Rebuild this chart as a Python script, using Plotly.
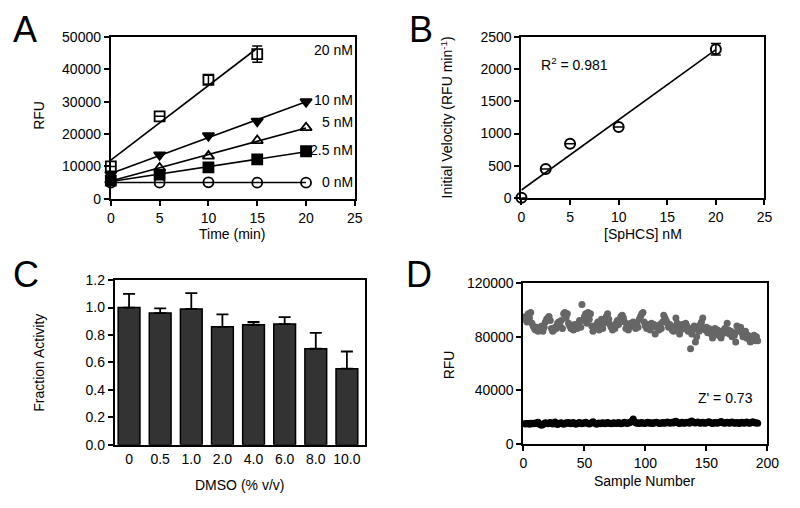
import numpy as np
import plotly.graph_objects as go

# ---------- Panel A data ----------
time_min = [0, 5, 10, 15, 20]
rfu_0nM = [5000, 5000, 5100, 5000, 5000]
rfu_2_5nM = [5600, 7500, 9700, 12200, 14700]
rfu_5nM = [5800, 9500, 13200, 18000, 22000]
rfu_10nM = [7500, 13600, 19500, 24000, 30000]
time_20 = [0, 5, 10, 15]
rfu_20nM = [10000, 25500, 36800, 44700]
err_20nM = [0, 0, 1400, 2500]
labels_A = ["20 nM", "10 nM", "5 nM", "2.5 nM", "0 nM"]
label_y_A = [46100, 30500, 23600, 15200, 5100]

# ---------- Panel B data ----------
sphcs_nM = [0, 2.5, 5, 10, 20]
velocity = [0, 450, 840, 1100, 2310]
velocity_err = [0, 0, 0, 0, 90]

# ---------- Panel C data ----------
dmso_labels = ["0", "0.5", "1.0", "2.0", "4.0", "6.0", "8.0", "10.0"]
fraction_activity = [1.00, 0.96, 0.99, 0.86, 0.875, 0.88, 0.70, 0.555]
fraction_err = [0.10, 0.035, 0.115, 0.09, 0.02, 0.05, 0.115, 0.125]

# ---------- Panel D data ----------
high_signal = [
    93000, 95000, 91000, 97000, 94000, 98000, 90000, 88000, 86000, 85000, 87000, 84000,
    86000, 85000, 88000, 84000, 87000, 91000, 93000, 94000, 95000, 92000, 86000, 84000,
    85000, 87000, 86000, 90000, 91000, 88000, 92000, 86000, 97000, 98000, 94000, 97000,
    90000, 88000, 86000, 87000, 85000, 89000, 88000, 86000, 90000, 92000, 87000, 104000,
    92000, 95000, 97000, 90000, 98000, 93000, 97000, 88000, 84000, 87000, 86000, 89000,
    91000, 85000, 88000, 93000, 86000, 90000, 92000, 95000, 97000, 93000, 89000, 87000,
    85000, 88000, 86000, 90000, 92000, 89000, 93000, 95000, 96000, 94000, 91000, 86000,
    88000, 85000, 87000, 90000, 89000, 91000, 88000, 86000, 90000, 87000, 93000, 95000,
    97000, 98000, 91000, 88000, 86000, 89000, 87000, 85000, 90000, 88000, 89000, 82000,
    87000, 88000, 85000, 89000, 86000, 91000, 96000, 94000, 92000, 90000, 87000, 89000,
    88000, 85000, 84000, 86000, 94000, 90000, 88000, 82000, 85000, 89000, 87000, 86000,
    90000, 88000, 84000, 86000, 71000, 82000, 85000, 88000, 76000, 80000, 87000, 84000,
    89000, 91000, 94000, 86000, 85000, 87000, 83000, 86000, 85000, 82000, 79000, 84000,
    86000, 83000, 85000, 81000, 84000, 79000, 82000, 84000, 86000, 83000, 90000, 85000,
    82000, 84000, 80000, 83000, 81000, 76000, 88000, 86000, 84000, 87000, 83000, 80000,
    82000, 84000, 79000, 81000, 78000, 76000, 80000, 79000, 81000, 77000, 80000, 77000,
]
low_signal = [
    15000, 14800, 15200, 15100, 14700, 15400, 15000, 15300, 14900, 15600, 15200, 16200,
    15000, 14200, 13800, 14500, 15200, 15800, 15400, 15000, 15600, 15900, 15300, 14800,
    15500, 16300, 15000, 14400, 14900, 15300, 15700, 15100, 14600, 15200, 15800, 15400,
    15900, 15300, 15000, 15600, 16000, 15200, 14700, 15100, 15500, 15900, 15400, 14900,
    15300, 15700, 16200, 15600, 15100, 14800, 15400, 15800, 16400, 15700, 15200, 14700,
    15100, 15500, 14900, 15300, 15800, 15400, 15000, 15600, 16000, 15500, 15200, 14900,
    15300, 15700, 15400, 15100, 15600, 15900, 15300, 15000, 15400, 15800, 16100, 15600,
    15200, 15500, 15900, 16300, 17000, 18500, 16600, 15800, 15300, 15700, 15200, 15600,
    16000, 15500, 15100, 15400, 15800, 16100, 15600, 15300, 15700, 15200, 15500, 15900,
    16200, 15700, 15400, 15100, 15600, 16000, 15500, 15300, 15800, 16300, 15900, 15400,
    15700, 16100, 15600, 16400, 16800, 16000, 15500, 15200, 15700, 16100, 15600, 15300,
    15800, 16200, 15900, 15400, 16700, 17000, 16300, 15800, 15500, 15900, 16300, 15700,
    15400, 15800, 16200, 15600, 15300, 15700, 16100, 16500, 15900, 15500, 15200, 15600,
    16000, 15700, 15400, 15800, 16200, 16600, 16100, 15600, 15300, 15700, 16100, 15800,
    15400, 15900, 16300, 15700, 15300, 15600, 16000, 15500, 15200, 15700, 16100, 15800,
    15400, 15900, 16300, 15700, 15300, 15600, 16000, 16500, 15900, 15500, 15800, 15400,
]
sample_number = list(range(1, len(high_signal) + 1))

FONT = "Liberation Sans, Arial, sans-serif"
BLACK = "#000000"

fig = go.Figure()

# ---------- Panel A ----------
series_A = [
    (time_min, rfu_0nM, "circle-open", None),
    (time_min, rfu_2_5nM, "square", None),
    (time_min, rfu_5nM, "triangle-up-open", None),
    (time_min, rfu_10nM, "triangle-down", None),
    (time_20, rfu_20nM, "square-open", err_20nM),
]
for xs, ys, sym, err in series_A:
    slope, icpt = np.polyfit(xs, ys, 1)
    xl = [xs[0], xs[-1]]
    fig.add_trace(go.Scatter(x=xl, y=[icpt + slope * v for v in xl], mode="lines",
                             line=dict(color=BLACK, width=1.6), xaxis="x", yaxis="y",
                             showlegend=False, hoverinfo="skip", cliponaxis=False))
    tr = go.Scatter(
        x=xs, y=ys, mode="markers", xaxis="x", yaxis="y", showlegend=False, cliponaxis=False,
        marker=dict(symbol=sym, size=10, color=BLACK, line=dict(color=BLACK, width=1.8)))
    if err is not None:
        tr.error_y = dict(type="data", array=err, color=BLACK, thickness=1.5, width=5)
    fig.add_trace(tr)

for txt, yv in zip(labels_A, label_y_A):
    fig.add_annotation(x=24.95, y=yv, xref="x", yref="y", text=txt, showarrow=False,
                       xanchor="right", yanchor="middle", borderpad=0,
                       font=dict(size=14, color=BLACK, family=FONT))

# ---------- Panel B ----------
sB, iB = np.polyfit(sphcs_nM, velocity, 1)
xlB = [sphcs_nM[0], sphcs_nM[-1]]
fig.add_trace(go.Scatter(x=xlB, y=[iB + sB * v for v in xlB], mode="lines",
                         line=dict(color=BLACK, width=1.6), xaxis="x2", yaxis="y2",
                         showlegend=False, cliponaxis=False))
fig.add_trace(go.Scatter(x=sphcs_nM, y=velocity, mode="markers", xaxis="x2", yaxis="y2",
                         showlegend=False, cliponaxis=False,
                         marker=dict(symbol="circle-open", size=10, color=BLACK,
                                     line=dict(color=BLACK, width=2)),
                         error_y=dict(type="data", array=velocity_err, color=BLACK,
                                      thickness=1.5, width=5)))
fig.add_annotation(x=1.8, y=2080, xref="x2", yref="y2", text="R<sup>2</sup> = 0.981",
                   showarrow=False, xanchor="left", yanchor="middle",
                   font=dict(size=14, color=BLACK, family=FONT))

# ---------- Panel C ----------
fig.add_trace(go.Bar(x=list(range(len(dmso_labels))), y=fraction_activity, xaxis="x3", yaxis="y3",
                     width=0.7, marker=dict(color="#333333", line=dict(color=BLACK, width=1.5)),
                     error_y=dict(type="data", array=fraction_err, arrayminus=[0] * len(fraction_err),
                                  symmetric=False, color=BLACK, thickness=1.8, width=6),
                     showlegend=False))

# ---------- Panel D ----------
fig.add_trace(go.Scatter(x=sample_number, y=high_signal, mode="markers", xaxis="x4", yaxis="y4",
                         showlegend=False, cliponaxis=False,
                         marker=dict(size=7, color="#666666")))
fig.add_trace(go.Scatter(x=sample_number, y=low_signal, mode="markers", xaxis="x4", yaxis="y4",
                         showlegend=False, cliponaxis=False,
                         marker=dict(size=7, color=BLACK)))
fig.add_annotation(x=190, y=34000, xref="x4", yref="y4", text="Z' = 0.73", showarrow=False,
                   xanchor="right", yanchor="middle", font=dict(size=14, color=BLACK, family=FONT))

# ---------- Axes ----------
def ax(domain, rng, anchor, dtick=None, tickvals=None, ticktext=None, ticks="outside", tickformat=None):
    d = dict(domain=domain, range=rng, anchor=anchor, showline=True, linecolor=BLACK, linewidth=2,
             mirror=True, ticks=ticks, ticklen=5, tickwidth=1.5, tickcolor=BLACK,
             showgrid=False, zeroline=False, tickfont=dict(size=14, color=BLACK, family=FONT))
    if dtick is not None:
        d["dtick"] = dtick
        d["tick0"] = 0
    if tickvals is not None:
        d["tickvals"] = tickvals
        d["ticktext"] = ticktext
        d["tickmode"] = "array"
    if tickformat:
        d["tickformat"] = tickformat
    return d

W, H = 800, 508
def px_x(a, b):
    return [a / W, b / W]
def px_y(top, bottom):
    return [1 - bottom / H, 1 - top / H]

fig.update_layout(
    width=W, height=H, margin=dict(l=0, r=0, t=0, b=0),
    paper_bgcolor="white", plot_bgcolor="white",
    font=dict(family=FONT, color=BLACK, size=14),
    xaxis=ax(px_x(109, 358), [0, 25], "y", dtick=5),
    yaxis=ax(px_y(30, 197), [0, 50000], "x", dtick=10000, tickformat="d"),
    xaxis2=ax(px_x(528, 776), [0, 25], "y2", dtick=5),
    yaxis2=ax(px_y(30, 196), [0, 2500], "x2", dtick=500, tickformat="d"),
    xaxis3=ax(px_x(113, 368), [-0.46, 7.57], "y3", tickvals=list(range(len(dmso_labels))),
              ticktext=dmso_labels, ticks=""),
    yaxis3=ax(px_y(281, 451), [0, 1.2], "x3", dtick=0.2, tickformat=".1f"),
    xaxis4=ax(px_x(530, 779), [0, 200], "y4", dtick=50),
    yaxis4=ax(px_y(284, 450), [0, 120000], "x4", dtick=40000, tickformat="d"),
    bargap=0.3,
)

# Axis titles and panel letters
def ann(xp, yp, text, size=14, angle=0, xanchor="center", yanchor="middle"):
    fig.add_annotation(x=xp / W, y=1 - yp / H, xref="paper", yref="paper", text=text, showarrow=False,
                       textangle=angle, xanchor=xanchor, yanchor=yanchor,
                       font=dict(size=size, color=BLACK, family=FONT))

ann(233, 233, "Time (min)")
ann(35, 111, "RFU", angle=-90)
ann(652, 233, "[SpHCS] nM")
ann(452, 113, "Initial Velocity (RFU min<sup>-1</sup>)", angle=-90)
ann(240, 492, "DMSO (% v/v)")
ann(36, 366, "Fraction Activity", angle=-90)
ann(654, 488, "Sample Number")
ann(455, 368, "RFU", angle=-90)

ann(21, 22, "A", size=36)
ann(425, 22, "B", size=36)
ann(22, 275, "C", size=36)
ann(423, 275, "D", size=36)

fig.write_html("out.html", config={"displayModeBar": False},
               post_script="document.body.style.margin='0';document.body.style.overflow='hidden';")
